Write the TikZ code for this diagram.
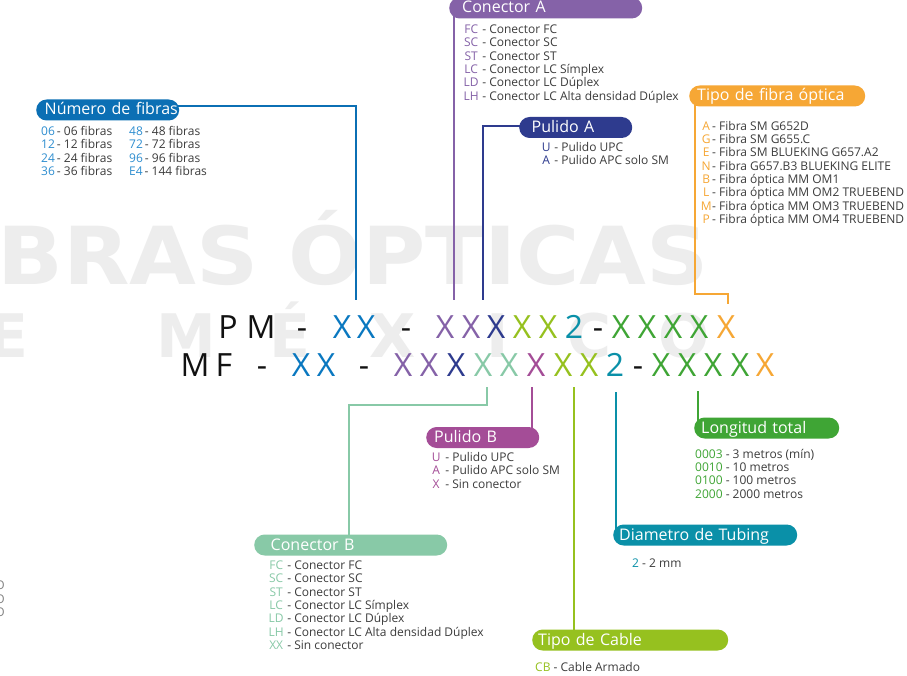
\documentclass[tikz,border=0pt]{standalone}
\usepackage{fontspec}
\setmainfont{Open Sans}
\newfontfamily\wmfont{DejaVu Sans}
\usetikzlibrary{backgrounds}
\definecolor{ink}{HTML}{111111}
\definecolor{txt}{HTML}{3C3C3C}
\definecolor{cblue}{HTML}{0A78C0}
\definecolor{cbluep}{HTML}{0B6FB4}
\definecolor{cbluek}{HTML}{2E8ED0}
\definecolor{cpurple}{HTML}{8562A8}
\definecolor{cnavy}{HTML}{2E3B8E}
\definecolor{clime}{HTML}{96C11F}
\definecolor{cteal}{HTML}{0A90A8}
\definecolor{cgreen}{HTML}{3FA535}
\definecolor{corange}{HTML}{F6A735}
\definecolor{cmint}{HTML}{88C9A7}
\definecolor{cmag}{HTML}{A44D97}
\definecolor{wm}{HTML}{EDEDED}
\tikzset{
  pill/.style={rounded corners=10.5pt, minimum height=21pt, inner ysep=0pt, text=white,
    font=\fontsize{16}{16}\selectfont, anchor=west, align=left, text height=12pt, text depth=2pt},
  lst/.style={anchor=base west, inner sep=0pt, text=txt, font=\fontsize{12}{13}\selectfont},
  codech/.style={anchor=base, inner sep=0pt, font=\fontsize{32}{32}\selectfont},
  conn/.style={line width=2pt},
  wmk/.style={inner sep=0pt, text=wm, font=\wmfont\bfseries}
}
\begin{document}
\begin{tikzpicture}[x=1pt,y=-1pt]
\useasboundingbox (0,0) rectangle (907,676);
% white page and watermark (behind everything)
\begin{scope}[on background layer]
\fill[white] (0,0) rectangle (907,676);
\node[wmk, anchor=base west, font=\wmfont\bfseries\fontsize{80}{80}\selectfont] (wm1) at (-3,284) {\scalebox{1.08}[1]{BRAS ÓPTICAS}};
\foreach \x/\c [count=\i] in {8/E,186/M,290/É,393/X,498/I,590/C,684/O}
  \node[wmk, anchor=base, font=\wmfont\bfseries\fontsize{60}{60}\selectfont] (wm2\i) at (\x,357) {\c};
\end{scope}
\foreach \y [count=\i] in {589,603,616}
  \node[anchor=base east, inner sep=0pt, text=gray, font=\fontsize{12}{12}\selectfont] (edge\i) at (5,\y) {O};

% code rows
\foreach \x/\c/\col [count=\i] in {228/P/ink,261/M/ink,302/-/ink,342/X/cblue,366/X/cblue,406/-/ink,
  445/X/cpurple,471/X/cpurple,496/X/cnavy,522/X/clime,548/X/clime,574/2/cteal,598/-/ink,
  621/X/cgreen,647/X/cgreen,673/X/cgreen,699/X/cgreen,726/X/corange}
  \node[codech, text=\col] (ra\i) at (\x,338.5) {\c};
\foreach \x/\c/\col [count=\i] in {195/M/ink,224/F/ink,262/-/ink,301/X/cblue,326/X/cblue,364/-/ink,
  403/X/cpurple,429/X/cpurple,456/X/cnavy,483/X/cmint,509/X/cmint,536/X/cmag,563/X/clime,589/X/clime,
  615/2/cteal,638/-/ink,661/X/cgreen,687/X/cgreen,713/X/cgreen,740/X/cgreen,765/X/corange}
  \node[codech, text=\col] (rb\i) at (\x,376.5) {\c};

% pills
\node[pill, fill=cbluep, minimum width=143pt, inner xsep=8.5pt, text width=126pt] (nf) at (36,110) {\mbox{Número de fibras}};
\node[pill, fill=cpurple, minimum width=193pt, inner xsep=13pt, text width=167pt] (ca) at (449,8) {\mbox{Conector A}};
\node[pill, fill=cnavy, minimum width=113pt, inner xsep=12.5pt, text width=88pt] (pa) at (519,127.5) {\mbox{Pulido A}};
\node[pill, fill=corange, minimum width=176pt, inner xsep=8pt, text width=160pt] (tf) at (689,96) {\mbox{Tipo de fibra óptica}};
\node[pill, fill=cmag, minimum width=113pt, inner xsep=8pt, text width=97pt] (pb) at (426,437.5) {\mbox{Pulido B}};
\node[pill, fill=cmint, minimum width=193pt, inner xsep=16.5pt, text width=160pt] (cb) at (254,545) {\mbox{Conector B}};
\node[pill, fill=cgreen, minimum width=145pt, inner xsep=7pt, text width=131pt] (lt) at (694,428) {\mbox{Longitud total}};
\node[pill, fill=cteal, minimum width=184pt, inner xsep=6pt, text width=172pt] (dt) at (613,535) {\mbox{Diametro de Tubing}};
\node[pill, fill=clime, minimum width=196pt, inner xsep=6pt, text width=184pt] (tc) at (532,640) {\mbox{Tipo de Cable}};

% lists
\foreach \k/\d [count=\i from 0] in {06/06 fibras,12/12 fibras,24/24 fibras,36/36 fibras}
  \node[lst] (nfa\i) at (41,135.5+13.3*\i) {\textcolor{cbluek}{\k}\,- \d};
\foreach \k/\d [count=\i from 0] in {48/48 fibras,72/72 fibras,96/96 fibras,E4/144 fibras}
  \node[lst] (nfb\i) at (129,135.5+13.3*\i) {\textcolor{cbluek}{\k}\,- \d};
\foreach \k/\d [count=\i from 0] in {FC/Conector FC,SC/Conector SC,ST/Conector ST,LC/Conector LC Símplex,LD/Conector LC Dúplex,LH/Conector LC Alta densidad Dúplex}
  \node[lst] (cal\i) at (463,33.5+13.33*\i) {\makebox[16pt][c]{\textcolor{cpurple}{\k}} - \d};
\foreach \k/\d [count=\i from 0] in {U/Pulido UPC,A/Pulido APC solo SM}
  \node[lst] (pal\i) at (541,151.5+13.4*\i) {\makebox[10pt][c]{\textcolor{cnavy}{\k}} - \d};
\foreach \k/\d [count=\i from 0] in {A/Fibra SM G652D,G/Fibra SM G655.C,E/Fibra SM BLUEKING G657.A2,N/Fibra G657.B3 BLUEKING ELITE,B/Fibra óptica MM OM1,L/Fibra óptica MM OM2 TRUEBEND,M/Fibra óptica MM OM3 TRUEBEND,P/Fibra óptica MM OM4 TRUEBEND}
  \node[lst] (tfl\i) at (700,130.3+13.3*\i) {\makebox[12pt][c]{\textcolor{corange}{\k}}- \d};
\foreach \k/\d [count=\i from 0] in {U/Pulido UPC,A/Pulido APC solo SM,X/Sin conector}
  \node[lst] (pbl\i) at (430,461.5+13.3*\i) {\makebox[12pt][c]{\textcolor{cmag}{\k}} - \d};
\foreach \k/\d [count=\i from 0] in {FC/Conector FC,SC/Conector SC,ST/Conector ST,LC/Conector LC Símplex,LD/Conector LC Dúplex,LH/Conector LC Alta densidad Dúplex,XX/Sin conector}
  \node[lst] (cbl\i) at (268,569.3+13.4*\i) {\makebox[16pt][c]{\textcolor{cmint}{\k}} - \d};
\foreach \k/\d [count=\i from 0] in {0003/3 metros (mín),0010/10 metros,0100/100 metros,2000/2000 metros}
  \node[lst] (ltl\i) at (695,458.3+13.3*\i) {\textcolor{cgreen}{\k} - \d};
\node[lst] (dtl) at (632,567.3) {\textcolor{cteal}{2} - 2 mm};
\node[lst] (tcl) at (535,671.3) {\textcolor{clime}{CB} - Cable Armado};

% connector ends
\coordinate (nfend) at (356,300);
\coordinate (caend) at (453.5,300);
\coordinate (paend) at (483,300);
\coordinate (tfc) at (694.5,294);
\coordinate (tfend) at (728,304);
\coordinate (cbstart) at (487,387);
\coordinate (cbc) at (348.5,405);
\coordinate (pbstart) at (531.5,387);
\coordinate (tcstart) at (573.5,387);
\coordinate (dtstart) at (616,392);
\coordinate (ltstart) at (697.5,391);
\begin{scope}[on background layer]
\draw[conn, cbluep] ([yshift=4pt]nf.center) -| (nfend);
\draw[conn, cpurple] (ca.center -| caend) -- (caend);
\draw[conn, cnavy] ([yshift=1.5pt]pa.center) -| (paend);
\draw[conn, corange] (tf.center -| tfc) -- (tfc) -| (tfend);
\draw[conn, cmint] (cbstart) |- (cbc) -- (cb.center -| cbc);
\draw[conn, cmag] (pbstart) -- (pb.center -| pbstart);
\draw[conn, clime] (tcstart) -- (tc.center -| tcstart);
\draw[conn, cteal] (dtstart) -- (dt.center -| dtstart);
\draw[conn, cgreen] (ltstart) -- (lt.center -| ltstart);
\end{scope}
\end{tikzpicture}
\end{document}
